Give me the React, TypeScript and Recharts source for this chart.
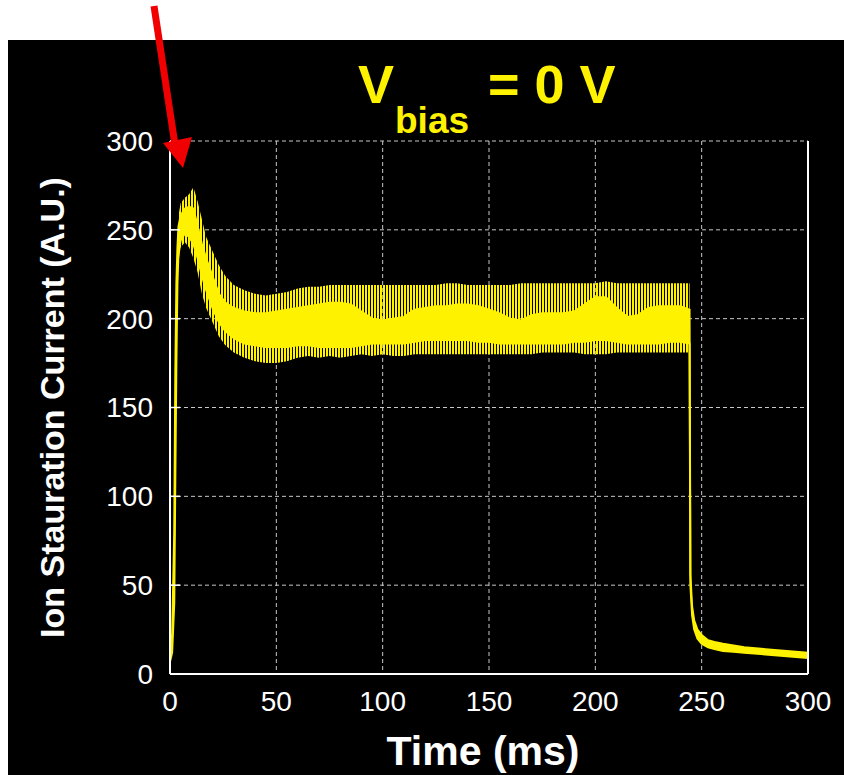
import React from "react";
import { ComposedChart, Area, XAxis, YAxis, CartesianGrid, ReferenceLine } from "recharts";

const FONT = "'Liberation Sans', Arial, Helvetica, sans-serif";
const YELLOW = "#fff200";

// time axis (ms)
const timeMs = [
  0, 1, 2, 2.5, 3, 3.5, 4, 5, 7, 9, 11, 13, 15, 17, 20, 23, 26, 30, 35, 40, 45,
  50, 55, 60, 65, 70, 75, 80, 85, 90, 95, 100, 105, 110, 115, 120, 125, 130, 135, 140, 145,
  150, 155, 160, 165, 170, 175, 180, 185, 190, 195, 200, 205, 210, 215, 220, 225, 230, 235, 240,
  244.3, 244.7, 245.5, 246.5, 248, 250, 253, 256, 260, 265, 270, 280, 290, 300,
];

// outer envelope of the fast oscillation (spike tips)
const envLow = [
  7, 12, 40, 110, 175, 215, 232, 240, 243, 240, 234, 226, 214, 206, 198, 190, 185, 181, 178, 176, 175,
  175, 176, 178, 179, 178, 179, 178, 179, 180, 179, 180, 179, 179, 180, 180, 180, 180, 180, 180, 180,
  180, 180, 180, 180, 180, 181, 181, 181, 181, 180, 180, 180, 181, 181, 181, 181, 181, 181, 181,
  181, 50, 33, 25, 20, 17, 15, 14, 13, 12.5, 12, 11, 10, 9,
];
const envHigh = [
  10, 22, 80, 170, 220, 245, 258, 265, 268, 270, 274, 266, 256, 246, 238, 230, 224, 219, 216, 214, 213,
  214, 215, 217, 218, 218, 219, 219, 219, 219, 219, 219, 219, 219, 219, 219, 219, 220, 220, 219, 219,
  219, 219, 219, 220, 220, 220, 220, 220, 220, 220, 220, 221, 220, 220, 220, 220, 220, 220, 220,
  220, 56, 38, 30, 25, 22, 19, 18, 17, 16, 15, 14, 13, 12,
];

// dense core of the signal
const coreLow = [
  7, 12, 40, 110, 175, 220, 238, 244, 248, 246, 242, 234, 224, 216, 206, 198, 193, 189, 186, 185, 184,
  184, 184, 185, 185, 184, 184, 184, 184, 185, 186, 186, 186, 186, 187, 188, 188, 188, 188, 188, 187,
  187, 186, 186, 186, 186, 186, 186, 186, 187, 187, 188, 188, 187, 186, 186, 186, 186, 187, 187,
  186, 50, 33, 25, 20, 17, 15, 14, 13, 12.5, 12, 11, 10, 9,
];
const coreHigh = [
  10, 22, 80, 170, 220, 240, 252, 258, 262, 263, 262, 252, 242, 234, 224, 214, 209, 206, 204, 203, 203,
  204, 205, 206, 207, 208, 209, 209, 208, 204, 200, 199, 200, 201, 205, 206, 207, 207, 208, 208, 207,
  205, 203, 200, 199, 202, 203, 203, 203, 204, 208, 212, 212, 206, 201, 202, 206, 207, 207, 207,
  205, 56, 38, 30, 25, 22, 19, 18, 17, 16, 15, 14, 13, 12,
];

const xTicks = [0, 50, 100, 150, 200, 250, 300];
const yTicks = [0, 50, 100, 150, 200, 250, 300];

const rows = timeMs.map((t, i) => ({
  t,
  env: [envLow[i], envHigh[i]],
  core: [coreLow[i], coreHigh[i]],
}));

export default function App() {
  return (
    <div
      style={{
        position: "relative",
        width: 844,
        height: 775,
        background: "#fff",
        overflow: "hidden",
        fontFamily: FONT,
      }}
    >
      <style>{`body{margin:0;overflow:hidden}`}</style>
      <svg width={0} height={0} style={{ position: "absolute" }}>
        <defs>
          {/* vertical stripes stand in for the fast oscillation */}
          <pattern id="spikes" patternUnits="userSpaceOnUse" width={3} height={10}>
            <rect x={0} y={0} width={2} height={10} fill={YELLOW} shapeRendering="crispEdges" />
          </pattern>
        </defs>
      </svg>

      <div style={{ position: "absolute", left: 8, top: 40, width: 836, height: 735, background: "#000" }}>
        <ComposedChart
          width={836}
          height={735}
          data={rows}
          margin={{ top: 101, right: 36, bottom: 0, left: 0 }}
        >
          <CartesianGrid stroke="#c8c8c8" strokeDasharray="4 3" />
          <XAxis
            dataKey="t"
            type="number"
            domain={[0, 300]}
            ticks={xTicks}
            height={101}
            axisLine={{ stroke: "#fff", strokeWidth: 2 }}
            tickLine={false}
            tickSize={-10}
            tickMargin={27}
            tick={{ fill: "#fff", fontSize: 28 }}
            label={{
              value: "Time (ms)",
              position: "insideBottom",
              offset: 10,
              dx: -6,
              fill: "#fff",
              fontSize: 41,
              fontWeight: "bold",
            }}
          />
          <YAxis
            type="number"
            domain={[0, 300]}
            ticks={yTicks}
            width={162}
            axisLine={{ stroke: "#fff", strokeWidth: 2 }}
            tickLine={{ stroke: "#fff", strokeWidth: 1.5 }}
            tickSize={-10}
            tickMargin={27}
            tick={{ fill: "#fff", fontSize: 28 }}
            label={{
              value: "Ion Stauration Current (A.U.)",
              angle: -90,
              position: "insideLeft",
              offset: 44,
              fill: "#fff",
              fontSize: 34,
              fontWeight: "bold",
              style: { textAnchor: "middle" },
            }}
          />
          <ReferenceLine x={300} stroke="#fff" strokeWidth={2} />
          <Area
            type="linear"
            dataKey="env"
            stroke="none"
            fill="url(#spikes)"
            fillOpacity={1}
            isAnimationActive={false}
          />
          <Area
            type="linear"
            dataKey="core"
            stroke={YELLOW}
            strokeWidth={2}
            fill={YELLOW}
            fillOpacity={1}
            isAnimationActive={false}
          />
        </ComposedChart>
      </div>

      <svg
        width={844}
        height={775}
        style={{ position: "absolute", left: 0, top: 0, pointerEvents: "none" }}
      >
        <g fill={YELLOW} fontWeight="bold" fontFamily={FONT}>
          <text x={358} y={103} fontSize={54}>V</text>
          <text x={395} y={133} fontSize={37}>bias</text>
          <text x={488} y={103} fontSize={54}>= 0 V</text>
        </g>
        <line x1={154} y1={6} x2={175} y2={145} stroke="#f00000" strokeWidth={7} />
        <polygon points="163,143 192,137 183,168" fill="#f00000" />
      </svg>
    </div>
  );
}
